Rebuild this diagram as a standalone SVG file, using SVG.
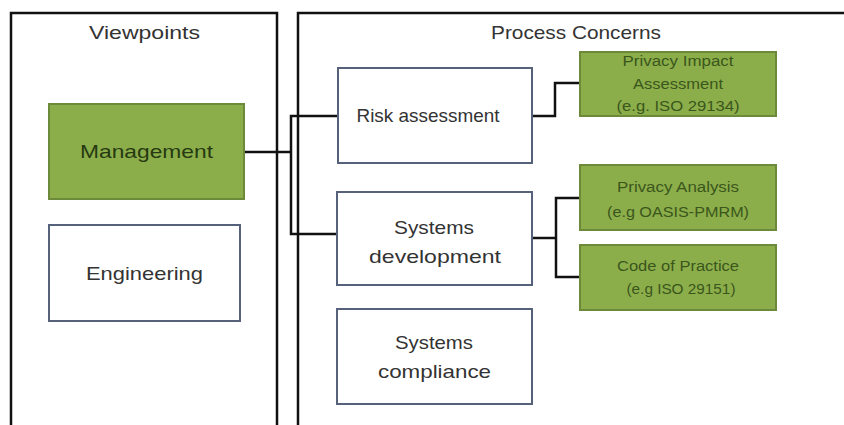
<svg xmlns="http://www.w3.org/2000/svg" width="844" height="425" viewBox="0 0 844 425">
  <style>
    text { font-family: "Liberation Sans", Arial, sans-serif; text-anchor: middle; }
    .panel { fill: none; stroke: #111; stroke-width: 2.5; }
    .title { font-size: 19px; fill: #333; }
    .vp-green { fill: #8cae4a; stroke: #6d8a3a; stroke-width: 2; }
    .vp-white { fill: #fff; stroke: #56627c; stroke-width: 2; }
    .lbl { font-size: 19px; fill: #333; }
    .lbl-green { font-size: 19px; fill: #263a12; }
    .sub { fill: #8cae4a; stroke: #6d8a3a; stroke-width: 2; }
    .sub-lbl { font-size: 14px; fill: #3a561c; }
    .conn { fill: none; stroke: #111; stroke-width: 2.5; }
  </style>
  <rect width="844" height="425" fill="#fff"/>

  <!-- panels -->
  <g id="panel-viewpoints">
    <path class="panel" d="M11,430 V13 H277 V430"/>
    <text class="title" x="144.5" y="39" textLength="111" lengthAdjust="spacingAndGlyphs">Viewpoints</text>
  </g>
  <g id="panel-process">
    <path class="panel" d="M298,430 V13 H850"/>
    <text class="title" x="576" y="39" textLength="170" lengthAdjust="spacingAndGlyphs">Process Concerns</text>
  </g>

  <!-- connectors -->
  <g id="connectors">
    <path class="conn" d="M244,152 H291"/>
    <path class="conn" d="M338,116 H291 V234 H337"/>
    <path class="conn" d="M532,116 H555 V83 H580"/>
    <path class="conn" d="M532,238 H556"/>
    <path class="conn" d="M580,198 H556 V277 H580"/>
  </g>

  <!-- viewpoints -->
  <g id="management">
    <rect class="vp-green" x="49" y="104" width="195" height="95"/>
    <text class="lbl-green" x="146.5" y="158" textLength="133" lengthAdjust="spacingAndGlyphs">Management</text>
  </g>
  <g id="engineering">
    <rect class="vp-white" x="49" y="225" width="191" height="96"/>
    <text class="lbl" x="144.5" y="280" textLength="117" lengthAdjust="spacingAndGlyphs">Engineering</text>
  </g>

  <!-- process concerns -->
  <g id="risk-assessment">
    <rect class="vp-white" x="338" y="68" width="194" height="95"/>
    <text class="lbl" x="428" y="122" textLength="143" lengthAdjust="spacingAndGlyphs">Risk assessment</text>
  </g>
  <g id="systems-development">
    <rect class="vp-white" x="337" y="192" width="195" height="93"/>
    <text class="lbl" x="434" y="234" textLength="80" lengthAdjust="spacingAndGlyphs">Systems</text>
    <text class="lbl" x="435" y="263" textLength="132" lengthAdjust="spacingAndGlyphs">development</text>
  </g>
  <g id="systems-compliance">
    <rect class="vp-white" x="337" y="309" width="195" height="95"/>
    <text class="lbl" x="434" y="349" textLength="78" lengthAdjust="spacingAndGlyphs">Systems</text>
    <text class="lbl" x="434.5" y="378" textLength="113" lengthAdjust="spacingAndGlyphs">compliance</text>
  </g>

  <!-- practices -->
  <g id="privacy-impact-assessment">
    <rect class="sub" x="580" y="52" width="196" height="64"/>
    <text class="sub-lbl" x="678" y="66" textLength="111" lengthAdjust="spacingAndGlyphs">Privacy Impact</text>
    <text class="sub-lbl" x="678" y="89" textLength="90" lengthAdjust="spacingAndGlyphs">Assessment</text>
    <text class="sub-lbl" x="678" y="111" textLength="123" lengthAdjust="spacingAndGlyphs">(e.g. ISO 29134)</text>
  </g>
  <g id="privacy-analysis">
    <rect class="sub" x="580" y="165" width="196" height="65"/>
    <text class="sub-lbl" x="678" y="192" textLength="122" lengthAdjust="spacingAndGlyphs">Privacy Analysis</text>
    <text class="sub-lbl" x="678" y="217" textLength="142" lengthAdjust="spacingAndGlyphs">(e.g OASIS-PMRM)</text>
  </g>
  <g id="code-of-practice">
    <rect class="sub" x="580" y="245" width="196" height="65"/>
    <text class="sub-lbl" x="678" y="271" textLength="122" lengthAdjust="spacingAndGlyphs">Code of Practice</text>
    <text class="sub-lbl" x="681" y="294" textLength="109" lengthAdjust="spacingAndGlyphs">(e.g ISO 29151)</text>
  </g>
</svg>
